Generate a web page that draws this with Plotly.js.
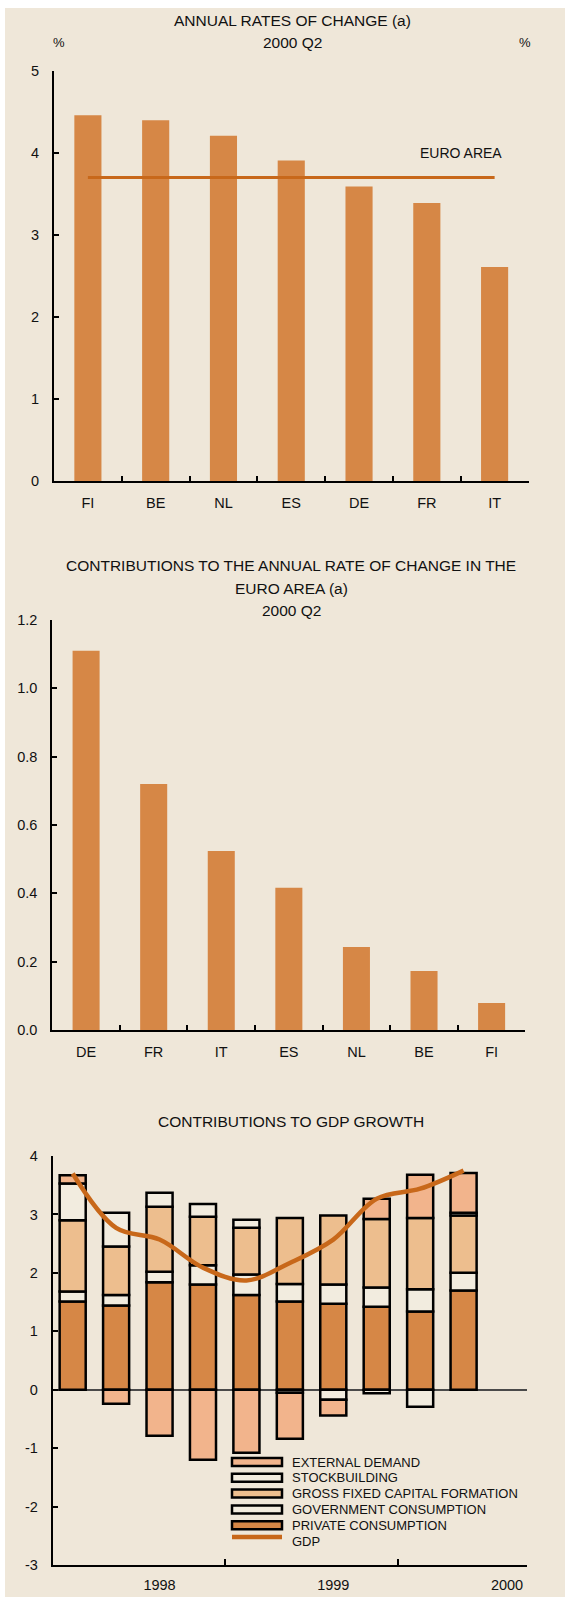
<!DOCTYPE html>
<html><head><meta charset="utf-8">
<script src="https://cdn.plot.ly/plotly-3.0.1.min.js"></script>
<style>
html,body{margin:0;padding:0;background:#ffffff;}
#chart{position:absolute;left:5px;top:8px;width:560px;height:1589px;}
</style></head><body><div id="chart"></div>
<script>
// ---------- Panel 1: annual rates of change, 2000 Q2 ----------
const countries1 = ['FI', 'BE', 'NL', 'ES', 'DE', 'FR', 'IT'];
const rates1 = [4.46, 4.40, 4.21, 3.91, 3.59, 3.39, 2.61];
const euroArea = 3.70;
const yTicks1 = [0, 1, 2, 3, 4, 5];

// ---------- Panel 2: contributions to euro area rate, 2000 Q2 ----------
const countries2 = ['DE', 'FR', 'IT', 'ES', 'NL', 'BE', 'FI'];
const contrib2 = [1.11, 0.72, 0.524, 0.416, 0.243, 0.173, 0.079];
const yTicks2 = [0, 0.2, 0.4, 0.6, 0.8, 1.0, 1.2];

// ---------- Panel 3: contributions to GDP growth ----------
const quarters = ['1998 Q1', '1998 Q2', '1998 Q3', '1998 Q4', '1999 Q1', '1999 Q2', '1999 Q3', '1999 Q4', '2000 Q1', '2000 Q2'];
const privateCons = [1.51, 1.44, 1.84, 1.80, 1.62, 1.51, 1.47, 1.42, 1.34, 1.70];
const govCons     = [0.17, 0.18, 0.18, 0.33, 0.35, 0.30, 0.33, 0.33, 0.38, 0.30];
const gfcf        = [1.22, 0.83, 1.11, 0.83, 0.80, 1.13, 1.18, 1.17, 1.22, 0.98];
const stockbuild  = [0.63, 0.58, 0.24, 0.22, 0.14, -0.05, -0.17, -0.06, -0.29, 0.05];
const extDemand   = [0.14, -0.24, -0.79, -1.20, -1.08, -0.79, -0.27, 0.35, 0.74, 0.68];
const gdp         = [3.70, 2.77, 2.57, 2.09, 1.87, 2.17, 2.57, 3.27, 3.44, 3.75];
const yearLabels = ['1998', '1999', '2000'];
const yTicks3 = [-3, -2, -1, 0, 1, 2, 3, 4];

// ---------- styling ----------
const FONT = 'Liberation Sans, Arial, Helvetica, sans-serif';
const INK = '#111111';
const BG = '#EFE7D9';
const ORANGE = '#D68746';
const LINE_ORANGE = '#C8681A';
const CREAM = '#F2ECDF';
const TAN = '#EDBE8E';
const SALMON = '#F2B48C';

const W = 560, H = 1589, OX = 5, OY = 8;
const px2x = x => (x - OX) / W;
const px2y = y => 1 - (y - OY) / H;

const qx = quarters.map((q, i) => i);

const axBase = {
  showline: true, linecolor: '#000', linewidth: 2,
  ticks: 'inside', ticklen: 5, tickwidth: 2, tickcolor: '#000',
  showgrid: false, zeroline: false, fixedrange: true, automargin: false,
  tickfont: {family: FONT, size: 14.5, color: INK}
};

const traces = [
  {type: 'bar', x: countries1, y: rates1, xaxis: 'x', yaxis: 'y', width: 0.4,
   marker: {color: ORANGE}, showlegend: false},
  {type: 'scatter', mode: 'lines', x: countries1, y: countries1.map(() => euroArea),
   xaxis: 'x', yaxis: 'y', line: {color: LINE_ORANGE, width: 3}, showlegend: false, name: 'EURO AREA'},
  {type: 'bar', x: countries2, y: contrib2, xaxis: 'x2', yaxis: 'y3', width: 0.4,
   marker: {color: ORANGE}, showlegend: false}
];

const comp = [
  {name: 'PRIVATE CONSUMPTION', y: privateCons, color: ORANGE},
  {name: 'GOVERNMENT CONSUMPTION', y: govCons, color: CREAM},
  {name: 'GROSS FIXED CAPITAL FORMATION', y: gfcf, color: TAN},
  {name: 'STOCKBUILDING', y: stockbuild, color: CREAM},
  {name: 'EXTERNAL DEMAND', y: extDemand, color: SALMON}
];
comp.forEach(c => traces.push({
  type: 'bar', name: c.name, x: qx, y: c.y, xaxis: 'x3', yaxis: 'y5', width: 0.6,
  marker: {color: c.color, line: {color: '#000', width: 2.5}}, showlegend: false
}));
traces.push({type: 'scatter', mode: 'lines', name: 'GDP', x: qx, y: gdp, xaxis: 'x3', yaxis: 'y5',
  line: {color: LINE_ORANGE, width: 4.5, shape: 'spline', smoothing: 1}, showlegend: false});

// ---------- annotations ----------
const ann = [];
function txt(text, x, y, size, xanchor) {
  ann.push({text: text, x: px2x(x), y: px2y(y), xref: 'paper', yref: 'paper',
    xanchor: xanchor || 'center', yanchor: 'middle', showarrow: false,
    font: {family: FONT, size: size, color: INK}});
}
txt('ANNUAL RATES OF CHANGE (a)', 292, 20.5, 15.5);
txt('2000 Q2', 292, 42, 15.5);
txt('%', 59, 43, 13);
txt('%', 525, 43, 13);
ann.push({text: 'EURO AREA', xref: 'x', yref: 'y', x: countries1[countries1.length - 1], y: 4,
  xanchor: 'right', yanchor: 'middle', xshift: 9, showarrow: false,
  font: {family: FONT, size: 14, color: INK}});
txt('CONTRIBUTIONS TO THE ANNUAL RATE OF CHANGE IN THE', 291, 565.5, 15.5);
txt('EURO AREA (a)', 291, 589, 15.5);
txt('2000 Q2', 291, 610, 15.5);
txt('CONTRIBUTIONS TO GDP GROWTH', 291, 1121, 15.5);

// ---------- custom legend (compact, as in the original) ----------
const shapes = [];
const legendOrder = [4, 3, 2, 1, 0];
const legTop = 1462, legStep = 15.8, symX0 = 232, symX1 = 282, textX = 290;
legendOrder.forEach((ci, k) => {
  const yc = legTop + k * legStep;
  shapes.push({type: 'rect', xref: 'paper', yref: 'paper',
    x0: px2x(symX0), x1: px2x(symX1), y0: px2y(yc + 4), y1: px2y(yc - 4),
    fillcolor: comp[ci].color, line: {color: '#000', width: 2.5}});
  txt(comp[ci].name, textX, yc, 13, 'left');
});
{
  const yc = legTop + 5 * legStep;
  shapes.push({type: 'line', xref: 'paper', yref: 'paper',
    x0: px2x(symX0), x1: px2x(symX1), y0: px2y(yc - 4), y1: px2y(yc - 4),
    line: {color: LINE_ORANGE, width: 4.5}});
  txt('GDP', textX, yc, 13, 'left');
}

const layout = {
  width: W, height: H, margin: {l: 0, r: 0, t: 0, b: 0, pad: 0},
  paper_bgcolor: BG, plot_bgcolor: 'rgba(0,0,0,0)',
  barmode: 'relative', showlegend: false, hovermode: false,
  font: {family: FONT, color: INK},
  // panel 1
  xaxis: Object.assign({}, axBase, {domain: [px2x(54), px2x(528.5)], anchor: 'y', type: 'category',
    range: [-0.5, 6.5], tickson: 'boundaries', ticklabelstandoff: 8}),
  yaxis: Object.assign({}, axBase, {domain: [px2y(481), px2y(71)], anchor: 'x', range: [0, 5],
    tickvals: yTicks1, ticktext: yTicks1.map(String), ticklabelstandoff: 10}),
  yaxis2: Object.assign({}, axBase, {overlaying: 'y', side: 'right', anchor: 'x', range: [0, 5],
    tickvals: yTicks1, ticktext: yTicks1.map(String), ticklabelstandoff: 10}),
  // panel 2
  xaxis2: Object.assign({}, axBase, {domain: [px2x(52.3), px2x(525.4)], anchor: 'y3', type: 'category',
    range: [-0.5, 6.5], tickson: 'boundaries', ticklabelstandoff: 8}),
  yaxis3: Object.assign({}, axBase, {domain: [px2y(1030), px2y(620)], anchor: 'x2', range: [0, 1.2],
    tickvals: yTicks2, ticktext: yTicks2.map(v => v.toFixed(1)), ticklabelstandoff: 10}),
  yaxis4: Object.assign({}, axBase, {overlaying: 'y3', side: 'right', anchor: 'x2', range: [0, 1.2],
    tickvals: yTicks2, ticktext: yTicks2.map(v => v.toFixed(1)), ticklabelstandoff: 10}),
  // panel 3
  xaxis3: Object.assign({}, axBase, {domain: [px2x(52.7), px2x(527)], anchor: 'y5',
    range: [-0.46, 10.46], ticks: '',
    tickvals: yearLabels.map((y, k) => 4 * k + 2), ticktext: yearLabels, ticklabelstandoff: 6,
    minor: {tickvals: [3.5, 7.5], ticks: 'inside', ticklen: 6, tickwidth: 2, tickcolor: '#000', showgrid: false}}),
  yaxis5: Object.assign({}, axBase, {domain: [px2y(1565), px2y(1156)], anchor: 'x3', range: [-3, 4],
    tickvals: yTicks3, ticktext: yTicks3.map(String), ticklabelstandoff: 10,
    zeroline: true, zerolinecolor: '#4a4a4a', zerolinewidth: 2}),
  yaxis6: Object.assign({}, axBase, {overlaying: 'y5', side: 'right', anchor: 'x3', range: [-3, 4],
    tickvals: yTicks3, ticktext: yTicks3.map(String), ticklabelstandoff: 10}),
  annotations: ann,
  shapes: shapes
};

Plotly.newPlot('chart', traces, layout, {staticPlot: true, displayModeBar: false});
</script></body></html>
